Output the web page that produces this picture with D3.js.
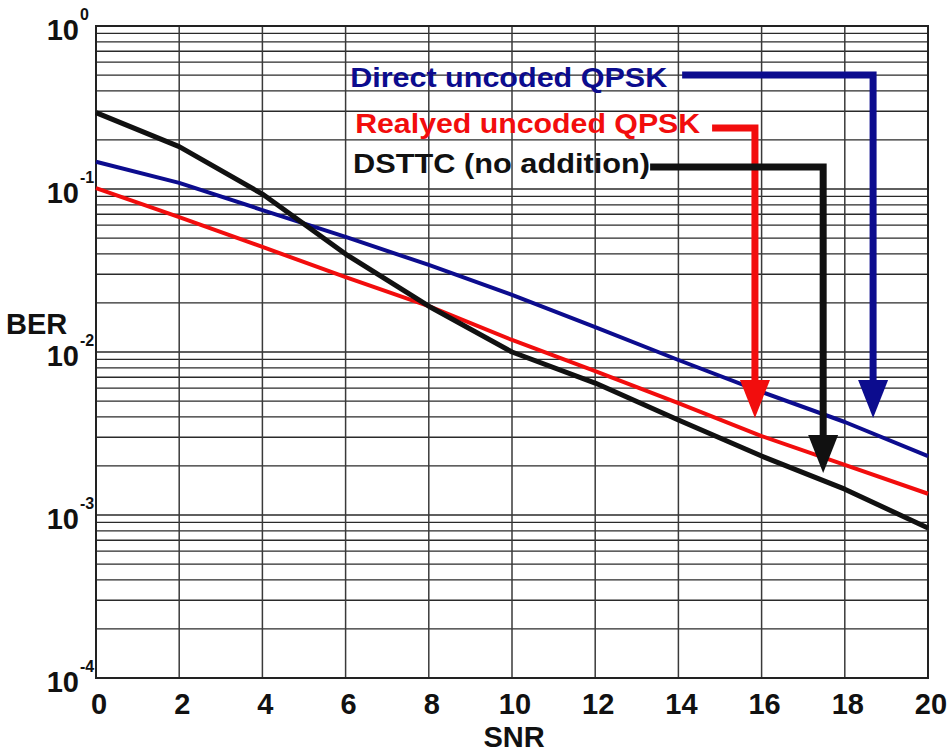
<!DOCTYPE html>
<html>
<head>
<meta charset="utf-8">
<script src="https://cdn.jsdelivr.net/npm/d3@7"></script>
<style>
  html, body { margin: 0; padding: 0; background: #fff; }
  svg { display: block; }
  text { font-family: "Liberation Sans", Arial, Helvetica, sans-serif; font-weight: bold; }
</style>
</head>
<body>
<svg id="chart" width="951" height="753"></svg>
<script>
// SNR axis samples (dB)
const snr = [0, 2, 4, 6, 8, 10, 12, 14, 16, 18, 20];

// Bit error rate for each scheme
const berDirect  = [0.147, 0.109, 0.0743, 0.0508, 0.0342, 0.0224, 0.0142, 0.00893, 0.00569, 0.00372, 0.00230];
const berRelayed = [0.1014, 0.0673, 0.0441, 0.0288, 0.0191, 0.01185, 0.00764, 0.00486, 0.00305, 0.00203, 0.00135];
const berDSTTC   = [0.294, 0.182, 0.0931, 0.0399, 0.0191, 0.0100, 0.00645, 0.00383, 0.0023, 0.00144, 0.000832];

// Tick labels
const xTicks = [0, 2, 4, 6, 8, 10, 12, 14, 16, 18, 20];
const yExponents = [0, -1, -2, -3, -4];

// Callout labels: text anchor (SNR, BER), elbow path from label to arrow tip
const labelNames = ["Direct uncoded QPSK", "Realyed uncoded QPSK", "DSTTC (no addition)"];
const labelAnchors = [[6.11, 0.422], [6.23, 0.221], [6.18, 0.1254]];
const labelWidths = [317, 345, 297];
const arrowStarts = [[14.09, 0.5], [14.81, 0.237], [13.32, 0.1364]];
const arrowCorners = [18.68, 15.84, 17.48];
const arrowTips = [0.00394, 0.00394, 0.00181];

const colors = ["#0c0c8e", "#f20d0d", "#111111"];

const svg = d3.select("#chart");
const plotL = 96, plotR = 928, plotT = 26, plotB = 678;

const x = d3.scaleLinear().domain([0, 20]).range([plotL, plotR]);
const y = d3.scaleLog().domain([1e-4, 1]).range([plotB, plotT]);

// Grid: horizontal lines at every decade and its 2..9 multiples
const gridG = svg.append("g");
const hVals = [];
for (let e = -4; e <= 0; e++) {
  for (let m = 1; m <= 9; m++) {
    const v = m * Math.pow(10, e);
    if (v <= 1 && v >= 1e-4) hVals.push(v);
  }
}
gridG.selectAll("line.h").data(hVals).enter().append("line")
  .attr("x1", plotL).attr("x2", plotR)
  .attr("y1", d => y(d)).attr("y2", d => y(d))
  .attr("stroke", "#2a2a2a").attr("stroke-width", 1.3);

gridG.selectAll("line.v").data(xTicks).enter().append("line")
  .attr("x1", d => x(d)).attr("x2", d => x(d))
  .attr("y1", plotT).attr("y2", plotB)
  .attr("stroke", "#3a3a3a").attr("stroke-width", 1.5);

// Frame
svg.append("rect")
  .attr("x", plotL).attr("y", plotT)
  .attr("width", plotR - plotL).attr("height", plotB - plotT)
  .attr("fill", "none").attr("stroke", "#222").attr("stroke-width", 2);

// X tick labels
svg.append("g").selectAll("text").data(xTicks).enter().append("text")
  .attr("x", d => x(d) + 3).attr("y", 714)
  .attr("text-anchor", "middle")
  .attr("font-size", 29).attr("fill", "#111")
  .text(d => d);

// Y tick labels: 10 with a superscript exponent
const yl = svg.append("g").selectAll("g").data(yExponents).enter().append("g");
yl.append("text")
  .attr("x", 79).attr("y", d => y(Math.pow(10, d)) + 14)
  .attr("text-anchor", "end")
  .attr("font-size", 29).attr("fill", "#111")
  .text("10");
yl.append("text")
  .attr("x", 80).attr("y", d => y(Math.pow(10, d)) - 6)
  .attr("text-anchor", "start")
  .attr("font-size", 16).attr("fill", "#111")
  .text(d => d === 0 ? "0" : String(d));

// Axis titles
svg.append("text").attr("x", 6).attr("y", 334)
  .attr("font-size", 29).attr("fill", "#111").text("BER");
svg.append("text").attr("x", 514).attr("y", 747)
  .attr("text-anchor", "middle")
  .attr("font-size", 29).attr("fill", "#111").text("SNR");

// Curves
const line = d3.line()
  .x((d, i) => x(snr[i]))
  .y(d => y(d));

const series = [
  { vals: berDirect, color: colors[0], w: 4 },
  { vals: berRelayed, color: colors[1], w: 4 },
  { vals: berDSTTC, color: colors[2], w: 5 }
];
svg.append("g").selectAll("path").data(series).enter().append("path")
  .attr("d", d => line(d.vals))
  .attr("fill", "none")
  .attr("stroke", d => d.color)
  .attr("stroke-width", d => d.w)
  .attr("stroke-linejoin", "round");

// Callouts
const callG = svg.append("g");
labelNames.forEach((name, i) => {
  callG.append("text")
    .attr("x", x(labelAnchors[i][0])).attr("y", y(labelAnchors[i][1]))
    .attr("font-size", 28).attr("fill", colors[i])
    .attr("textLength", labelWidths[i]).attr("lengthAdjust", "spacingAndGlyphs")
    .text(name);

  const sx = x(arrowStarts[i][0]), sy = y(arrowStarts[i][1]);
  const cx = x(arrowCorners[i]);
  const ty = y(arrowTips[i]);
  const headH = 38, headW = 30;

  callG.append("path")
    .attr("d", `M${sx},${sy} H${cx} V${ty - headH + 2}`)
    .attr("fill", "none").attr("stroke", colors[i])
    .attr("stroke-width", 7).attr("stroke-linejoin", "miter");

  callG.append("path")
    .attr("d", `M${cx - headW / 2},${ty - headH} L${cx + headW / 2},${ty - headH} L${cx},${ty} Z`)
    .attr("fill", colors[i]);
});
</script>
</body>
</html>
